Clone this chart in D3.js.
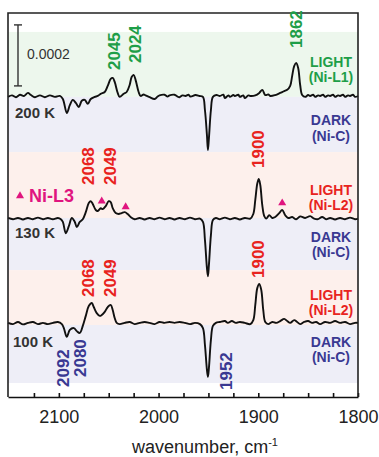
<!DOCTYPE html>
<html>
<head>
<meta charset="utf-8">
<script src="https://cdn.jsdelivr.net/npm/d3@7"></script>
<style>
  body { margin: 0; background: #fff; }
  text { font-family: 'Liberation Sans', Arial, sans-serif; }
</style>
</head>
<body>
<div id="chart"></div>
<script>
// ---- data (absorbance in units of 1e-4) ----
const wnDomain = [2151, 1800]
const wnTicks = d3.range(2125, 1799, -25)
const wnTickLabels = [2100, 2000, 1900, 1800]
const temps = ['200 K', '130 K', '100 K']
const offsets = [9.87, 5.85, 2.41]

const trace200 = [
  [2151, -0.03], [2147, 0.02], [2143, -0.04], [2139, 0.04], [2135, 0], [2131, 0.1], [2128, 0.03], [2124, -0.04],
  [2119, 0.02], [2114, -0.04], [2109, 0.02], [2104, -0.03], [2099, 0], [2096, -0.1], [2092, -0.56], [2089, -0.3],
  [2086, -0.13], [2083, -0.23], [2080, -0.36], [2077, -0.16], [2074, -0.13], [2071, -0.26], [2068, -0.1], [2064, -0.03],
  [2061, 0], [2058, 0.07], [2054, 0.13], [2051, 0.33], [2048, 0.56], [2046, 0.59], [2044, 0.46], [2041, 0.1],
  [2039, -0.03], [2035, 0.07], [2032, 0.13], [2029, 0.36], [2027, 0.62], [2025, 0.69], [2023, 0.52], [2020, 0.13],
  [2018, 0], [2015, 0.05], [2013, 0.02], [2009, -0.04], [2004, -0.1], [2001, -0.02], [1999, 0.02], [1994, 0.04],
  [1991, -0.02], [1989, 0.02], [1984, 0.04], [1981, -0.02], [1979, -0.04], [1976, 0.02], [1973, 0], [1970, 0.04],
  [1968, -0.02], [1963, 0.03], [1959, 0], [1955.5, -0.03], [1953.5, -0.46], [1951.5, -1.28], [1950.5, -1.77], [1949.5, -1.38],
  [1947.5, -0.46], [1945.5, -0.03], [1942, 0.03], [1938.5, 0], [1935, 0.04], [1933.5, -0.07], [1930, 0.02], [1928.5, -0.03],
  [1925, 0.03], [1923.5, 0], [1920, 0.04], [1918.5, -0.03], [1915, 0.02], [1913.5, -0.07], [1910, 0.02], [1908, 0],
  [1903, 0.02], [1899, 0.1], [1896, 0.2], [1893, 0.03], [1890, 0.05], [1888, 0], [1883, 0.03], [1878, 0.1],
  [1874, 0.16], [1871, 0.2], [1868, 0.33], [1866, 0.66], [1864, 0.98], [1862, 1.08], [1860, 0.92], [1858, 0.36],
  [1856, 0.03], [1853, -0.03], [1850, 0.03], [1848, 0], [1845, 0.04], [1843, -0.03], [1840, 0.02], [1838, 0],
  [1835, 0.04], [1833, -0.03], [1830, 0.02], [1828, 0], [1825, 0.04], [1823, -0.03], [1820, 0.02], [1818, 0],
  [1815, 0.04], [1813, -0.03], [1810, 0.02], [1808, 0], [1805, 0.04], [1803, -0.03], [1800, 0]
]

const trace130 = [
  [2151, 0.02], [2146, -0.02], [2141, 0.02], [2136, -0.03], [2131, 0.02], [2126, -0.02], [2121, 0.03], [2116, -0.02],
  [2111, 0.02], [2106, -0.02], [2101, 0.02], [2098, -0.02], [2096, -0.11], [2093, -0.48], [2090, -0.25], [2087, 0.02],
  [2084, -0.11], [2082, -0.28], [2079, -0.11], [2076, -0.02], [2073, 0.21], [2070, 0.51], [2068, 0.57], [2066, 0.48],
  [2063, 0.28], [2061, 0.25], [2058, 0.34], [2056, 0.31], [2053, 0.41], [2050, 0.57], [2048, 0.54], [2046, 0.34],
  [2043, 0.18], [2040, 0.15], [2037, 0.18], [2034, 0.21], [2031, 0.15], [2028, 0.05], [2024, -0.02], [2019, 0.02],
  [2014, -0.03], [2009, 0.02], [2004, -0.02], [1999, 0.03], [1994, -0.02], [1989, 0.02], [1984, -0.03], [1979, 0.02],
  [1973.5, -0.02], [1968.5, 0.03], [1963.5, -0.02], [1958.5, 0], [1955.5, -0.11], [1953.5, -0.7], [1951.5, -1.62], [1950.5, -1.89],
  [1949.5, -1.52], [1947.5, -0.54], [1945.5, -0.05], [1942.5, 0.02], [1938.5, -0.02], [1933.5, 0.03], [1928.5, -0.02], [1923.5, 0.02],
  [1918.5, -0.03], [1913.5, 0.02], [1908, 0], [1905, 0.15], [1903, 0.61], [1901, 1.15], [1899.5, 1.3], [1898, 1.1],
  [1896, 0.44], [1894, 0.08], [1892, 0], [1889, 0.11], [1886, 0.02], [1883, 0.05], [1879, 0.18], [1876, 0.28],
  [1873, 0.11], [1870, 0.02], [1866, 0.05], [1862, -0.02], [1858, 0.07], [1853, 0.02], [1848, 0.08], [1844, 0],
  [1840, -0.02], [1836, 0.05], [1832, -0.02], [1828, 0.02], [1823, -0.03], [1818, 0.02], [1813, -0.02], [1808, 0.03],
  [1803, -0.02], [1800, 0]
]

const trace100 = [
  [2151, 0.02], [2146, -0.02], [2141, 0.05], [2136, -0.03], [2131, 0.02], [2126, 0.05], [2121, -0.02], [2116, 0.02],
  [2111, -0.02], [2106, 0.02], [2101, 0.05], [2097, -0.02], [2095, -0.15], [2092, -0.44], [2089, -0.21], [2085, -0.15],
  [2082, -0.25], [2079, -0.31], [2076, -0.08], [2073, 0.25], [2070, 0.57], [2067, 0.67], [2065, 0.54], [2062, 0.34],
  [2059, 0.25], [2057, 0.28], [2054, 0.38], [2051, 0.54], [2048, 0.61], [2046, 0.44], [2044, 0.18], [2042, 0.02],
  [2039, -0.02], [2034, 0.02], [2029, 0.05], [2024, -0.02], [2019, 0.02], [2014, 0.05], [2009, 0.02], [2004, -0.02],
  [1999, 0.05], [1994, 0.02], [1989, 0.05], [1984, 0.02], [1979, 0.05], [1973.5, 0.02], [1968.5, -0.02], [1963.5, 0.02],
  [1958.5, -0.02], [1955.5, -0.15], [1953.5, -0.7], [1951.5, -1.52], [1950.5, -1.75], [1949.5, -1.46], [1947.5, -0.54], [1945.5, -0.08],
  [1942.5, 0.02], [1938.5, 0.05], [1933.5, 0.08], [1930.5, 0.02], [1926.5, 0.08], [1922.5, 0.02], [1918.5, 0.05], [1913.5, 0.02],
  [1908, -0.02], [1905, 0.11], [1903, 0.61], [1901, 1.16], [1899, 1.3], [1897, 1.1], [1895, 0.44], [1893, 0.05],
  [1890, -0.02], [1886, 0.05], [1882, 0.02], [1878, 0.08], [1874, 0.15], [1871, 0.08], [1868, 0.02], [1864, 0.11],
  [1861, 0.05], [1858, -0.02], [1854, 0.05], [1850, 0.08], [1846, 0.02], [1842, 0.05], [1838, -0.02], [1833, 0.05],
  [1828, 0.02], [1823, 0.08], [1818, 0.02], [1813, 0.05], [1808, -0.02], [1803, 0.02], [1800, 0.02]
]
const traces = [trace200, trace130, trace100]

// background bands (absorbance units, top to bottom)
const bandEdges = [11.97, 9.84, 8.03, 5.87, 4.16, 2.36, 0.46]
const bandKinds = ['L1', 'C', 'L2', 'C', 'L2', 'C']

// Ni-L3 markers on the 130 K trace
const markerWn = [2057, 2033, 1876]
const markerVal = [0.57, 0.38, 0.51]

const scaleBarValue = 2   // 0.0002
const scaleBarTop = 12.2

const greenLabels = ['2045', '2024', '1862']
const redLabels130 = ['2068', '2049', '1900']
const redLabels100 = ['2068', '2049', '1900']
const blueLabels = ['2092', '2080', '1952']

// ---- drawing ----
const width = 379
const height = 457
const mLeft = 8, mRight = 358, mTop = 13, mBottom = 397
const green = '#1e9e48', red = '#e8231e', blue = '#393992', magenta = '#e0157f', ink = '#111'
const bandFill = { L1: '#edf7ed', C: '#eeeef7', L2: '#fdf0ec' }

const svg = d3.select('#chart').append('svg').attr('width', width).attr('height', height)

const x = d3.scaleLinear().domain(wnDomain).range([mLeft, mRight])
const y = d3.scaleLinear().domain([0, (mBottom - mTop) / 30.5]).range([mBottom, mTop])

// 背景色带
svg.append('g').selectAll('rect').data(bandKinds).join('rect')
  .attr('x', mLeft).attr('width', mRight - mLeft)
  .attr('y', (d, i) => y(bandEdges[i]))
  .attr('height', (d, i) => y(bandEdges[i + 1]) - y(bandEdges[i]))
  .attr('fill', d => bandFill[d])

// 光谱曲线
const line = d3.line().curve(d3.curveCatmullRom.alpha(0.5))
traces.forEach((tr, i) => {
  svg.append('path')
    .attr('d', line.x(d => x(d[0])).y(d => y(d[1] + offsets[i]))(tr))
    .attr('fill', 'none').attr('stroke', ink).attr('stroke-width', 1.9)
    .attr('stroke-linejoin', 'round')
})

// Ni-L3 三角标记
const tri = d3.symbol().type(d3.symbolTriangle).size(28)
svg.append('g').selectAll('path').data(markerWn).join('path')
  .attr('d', tri)
  .attr('transform', (d, i) => 'translate(' + x(d) + ',' + y(markerVal[i] + offsets[1]) + ')')
  .attr('fill', magenta)

// 坐标轴
const xAxis = d3.axisBottom(x).tickValues(wnTicks).tickSize(-4).tickSizeOuter(0).tickPadding(13)
  .tickFormat(d => wnTickLabels.includes(d) ? d : '')
const gx = svg.append('g').attr('transform', 'translate(0,' + mBottom + ')').call(xAxis)
gx.select('.domain').attr('stroke', ink).attr('stroke-width', 1.6)
gx.selectAll('.tick line').attr('stroke', ink).attr('stroke-width', 1.6)
gx.selectAll('.tick text').attr('font-size', 18).attr('fill', '#222')
  .style('font-family', "'Liberation Sans', Arial, sans-serif")

// 边框
svg.append('path')
  .attr('d', 'M' + mLeft + ',' + mBottom + 'V' + mTop + 'H' + mRight + 'V' + mBottom)
  .attr('fill', 'none').attr('stroke', '#222').attr('stroke-width', 1.6)

// 横坐标标题
const xt = svg.append('text').attr('x', 205).attr('y', 453).attr('text-anchor', 'middle')
  .attr('font-size', 18).attr('fill', '#222')
xt.append('tspan').text('wavenumber, cm')
xt.append('tspan').text('-1').attr('font-size', 11).attr('dy', -7)

// 比例尺
const sbx = 18
const sb = svg.append('g').attr('stroke', '#333').attr('stroke-width', 1.4)
sb.append('line').attr('x1', sbx).attr('x2', sbx).attr('y1', y(scaleBarTop)).attr('y2', y(scaleBarTop - scaleBarValue))
sb.append('line').attr('x1', sbx - 4).attr('x2', sbx + 4).attr('y1', y(scaleBarTop)).attr('y2', y(scaleBarTop))
sb.append('line').attr('x1', sbx - 4).attr('x2', sbx + 4)
  .attr('y1', y(scaleBarTop - scaleBarValue)).attr('y2', y(scaleBarTop - scaleBarValue))
svg.append('text').attr('x', 27).attr('y', 59).attr('font-size', 14).attr('fill', '#333')
  .text(d3.format('.4f')(scaleBarValue * 1e-4))

// 温度标签
const tempPos = [[15, 118], [15, 238], [13, 347]]
temps.forEach((t, i) => {
  svg.append('text').attr('x', tempPos[i][0]).attr('y', tempPos[i][1])
    .attr('font-size', 15).attr('font-weight', 'bold').attr('fill', '#333').text(t)
})

// 右侧状态标签
const stateLabels = [
  ['LIGHT', '(Ni-L1)', green, 67, 82],
  ['DARK', '(Ni-C)', blue, 125, 141],
  ['LIGHT', '(Ni-L2)', red, 195, 210],
  ['DARK', '(Ni-C)', blue, 242, 257],
  ['LIGHT', '(Ni-L2)', red, 300, 315],
  ['DARK', '(Ni-C)', blue, 347, 362]
]
stateLabels.forEach(s => {
  const g = svg.append('g').attr('fill', s[2]).attr('font-size', 14).attr('font-weight', 'bold')
    .attr('text-anchor', 'middle')
  g.append('text').attr('x', 331).attr('y', s[3]).text(s[0])
  g.append('text').attr('x', 331).attr('y', s[4]).text(s[1])
})

// 峰位标签 (竖排)
function peakLabels (arr, color, dxs, ybs) {
  arr.forEach((t, i) => {
    const xc = x(+t) + dxs[i]
    svg.append('text')
      .attr('transform', 'translate(' + (xc + 6) + ',' + ybs[i] + ') rotate(-90)')
      .attr('font-size', 17).attr('font-weight', 'bold').attr('fill', color).text(t)
  })
}
peakLabels(greenLabels, green, [0, 0, 0], [70, 63, 48])
peakLabels(redLabels130, red, [-3, 0, 0], [185, 185, 168])
peakLabels(redLabels100, red, [-3, 0, 0], [297, 297, 278])
peakLabels(blueLabels, blue, [-4, 1, 19.5], [387, 377, 390])

// Ni-L3 图例
svg.append('path').attr('d', tri).attr('transform', 'translate(20,196)').attr('fill', magenta)
svg.append('text').attr('x', 29).attr('y', 202).attr('font-size', 18).attr('font-weight', 'bold')
  .attr('fill', magenta).text('Ni-L3')
</script>
</body>
</html>
